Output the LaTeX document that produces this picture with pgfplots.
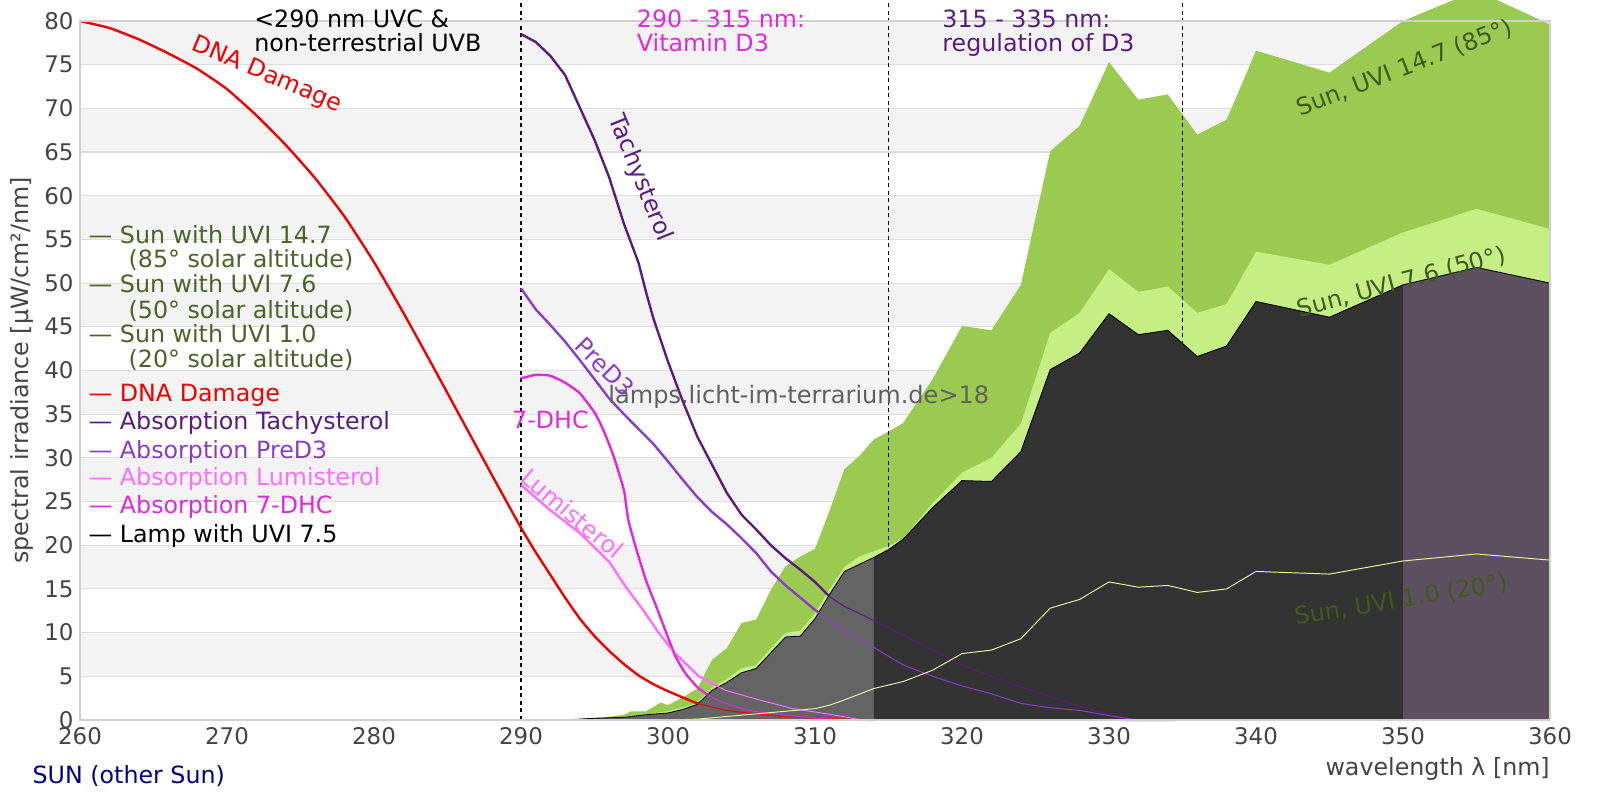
\documentclass[border=0pt]{standalone}
\usepackage{fontspec}
\setmainfont{DejaVu Sans}
\usepackage{pgfplots}
\usepackage{pgfplotstable}
\pgfplotsset{compat=1.18}
\newcommand{\chartfont}{\fontsize{17.1pt}{20.5pt}\selectfont}
\newcommand{\tickfont}{\fontsize{16.5pt}{19.8pt}\selectfont}
\definecolor{dnac}{RGB}{240,0,0}
\definecolor{tachyc}{RGB}{90,26,130}
\definecolor{predc}{RGB}{138,60,200}
\definecolor{lumic}{RGB}{255,110,255}
\definecolor{dhcc}{RGB}{224,40,224}
\definecolor{sunleg}{RGB}{74,100,40}
\definecolor{sunlab}{RGB}{62,90,28}
\definecolor{sunA}{RGB}{154,203,80}
\definecolor{sunB}{RGB}{197,239,132}
\definecolor{lampA}{RGB}{100,100,100}
\definecolor{lampB}{RGB}{51,51,51}
\definecolor{lampC}{RGB}{93,80,96}
\definecolor{sunonec}{RGB}{225,245,165}
\definecolor{tickc}{RGB}{68,68,68}
\definecolor{bandc}{RGB}{243,243,243}
\definecolor{gridc}{RGB}{221,221,221}
\definecolor{framec}{RGB}{208,208,208}
\definecolor{navyc}{RGB}{0,0,139}
\definecolor{wmc}{RGB}{96,96,96}

\pgfplotstableread{
x y
260 80.0
262 79.2
264 77.9
266 76.3
268 74.5
270 72.2
272 69.2
274 65.8
276 62.0
278 57.6
280 52.4
282 46.6
284 40.5
286 34.3
288 28.1
290 22.0
291 19.2
292 16.6
293 14.0
294 11.6
295 9.6
296 7.9
297 6.4
298 5.1
299 4.1
300 3.3
302 1.9
304 1.1
306 0.7
308 0.4
310 0.2
312 0.1
314 0.0
}\dna

\pgfplotstableread{
x y
290 78.5
291 77.6
292 76.0
293 73.8
294 70.1
295 66.4
296 62.1
297 56.8
298 52.3
298.5 49.0
299 46.0
300 41.0
301 36.5
302 32.4
303 29.2
304 26.0
305 23.5
306 21.8
307 20.0
308 18.5
309 17.2
310 15.8
311 14.1
312 13.0
314 11.4
316 9.7
318 8.0
320 6.3
322 5.0
324 3.8
326 2.7
328 1.6
330 0.6
331 0.0
334.5 0.0
}\tachy

\pgfplotstableread{
x y
290 49.4
291 47.0
292 45.2
293 43.3
294 41.2
295 39.0
296 36.8
297 35.0
298 33.3
299 31.6
300 29.6
301 27.5
302 25.5
303 23.8
304 22.4
305 20.8
306 19.1
307 17.0
308 15.4
309 14.0
310 12.6
312 10.2
314 8.3
316 6.3
318 5.0
320 3.9
322 3.0
324 1.9
326 1.4
328 1.1
330 0.5
332 0.0
}\pred

\pgfplotstableread{
x y
290 39.1
291 39.5
292 39.4
293 38.6
294 37.4
295 35.2
295.6 33.2
296.3 30.2
297 26.3
297.3 22.9
297.8 19.8
298.5 16.0
299.2 13.0
299.9 9.9
300.5 7.3
301.2 5.3
302.1 3.6
303.3 2.3
305.5 1.1
307.8 0.6
310.1 0.2
312 0.0
}\dhc

\pgfplotstableread{
x y
290 26.9
292 24.0
294 21.4
296 18.1
297.1 15.3
298.3 12.6
299.4 9.9
300.5 7.6
302.1 5.0
303.9 3.4
306.2 2.3
308.5 1.3
311.2 0.6
313.2 0.0
}\lumi

\pgfplotstableread{
x y
293 0
295 0.15
297 0.6
297.5 1.0
298.5 1.0
299.5 2.0
300 1.7
301 2.6
302 3.6
303 6.9
304 8.2
305 11.1
306 11.5
307 14.9
308 17.6
309 18.7
310 19.6
311 24.0
312 28.7
313 30.2
314 32.1
315 33.0
316 34.0
318 39.0
320 45.1
322 44.6
324 49.8
326 65.1
328 68.0
330 75.3
332 71.0
334 71.6
336 67.0
338 68.7
340 76.6
345 74.1
350 80.0
355 83.5
360 79.6
}\sunhigh

\pgfplotstableread{
x y
294 0
296 0.15
298 0.5
300 1.0
301 1.4
302 2.0
303 3.7
304 4.7
305 5.9
306 6.3
307 8.2
308 10.0
309 10.2
310 12.2
311 15.0
312 17.5
313 18.7
314 19.3
315 19.9
316 20.8
318 24.8
320 28.3
322 30.0
324 33.9
326 44.3
328 46.6
330 51.6
332 49.0
334 49.6
336 46.6
338 47.6
340 53.6
345 52.1
350 55.8
355 58.5
360 56.2
}\sunmid

\pgfplotstableread{
x y
300 0
302 0.1
304 0.4
306 0.7
308 1.0
310 1.3
311 1.7
312 2.3
314 3.6
316 4.4
318 5.7
320 7.6
322 8.0
324 9.3
326 12.8
328 13.8
330 15.8
332 15.2
334 15.4
336 14.6
338 15.0
340 17.0
345 16.7
350 18.2
355 19.0
360 18.3
}\sunlow

\pgfplotstableread{
x y
293 0
295 0.2
297 0.3
298.5 0.6
300 0.8
301 1.2
302 1.8
303 3.4
304 4.3
305 5.4
306 5.9
307 7.7
308 9.5
309 9.6
310 11.6
311 14.4
312 17.0
313 17.8
314 18.6
}\lampa

\pgfplotstableread{
x y
314 18.6
315 19.5
316 20.7
318 24.3
320 27.4
322 27.3
324 30.7
326 40.1
328 42.0
330 46.5
332 44.1
334 44.6
336 41.6
338 42.8
340 47.9
345 46.1
350 49.8
}\lampb

\pgfplotstableread{
x y
350 49.8
355 51.8
360 50.0
}\lampc

\begin{document}
\begin{tikzpicture}[font=\chartfont]
\begin{axis}[
  name=main,
  scale only axis,
  width=1058.4pt, height=503.28pt,
  xmin=260, xmax=360, ymin=0, ymax=80,
  clip=false,
  axis line style={draw=none},
  xtick={260,270,...,360},
  ytick={0,5,...,80},
  major tick length=0pt,
  tick label style={font=\tickfont, text=tickc},
  /pgf/number format/assume math mode=true,
  xticklabel style={yshift=-1.8pt},
  yticklabel style={xshift=-1.1pt},
  every axis plot/.append style={no markers, line join=round},
  thick line/.style={line width=1.7pt},
  thin line/.style={line width=0.7pt},
]
% alternating bands
\fill[bandc] (axis cs:260,5) rectangle (axis cs:360,10);
\fill[bandc] (axis cs:260,15) rectangle (axis cs:360,20);
\fill[bandc] (axis cs:260,25) rectangle (axis cs:360,30);
\fill[bandc] (axis cs:260,35) rectangle (axis cs:360,40);
\fill[bandc] (axis cs:260,45) rectangle (axis cs:360,50);
\fill[bandc] (axis cs:260,55) rectangle (axis cs:360,60);
\fill[bandc] (axis cs:260,65) rectangle (axis cs:360,70);
\fill[bandc] (axis cs:260,75) rectangle (axis cs:360,80);
\pgfplotsinvokeforeach{5,10,...,75}{
  \draw[gridc, line width=0.8pt] (axis cs:260,#1) -- (axis cs:360,#1);
}
% sun areas
\addplot[draw=none, fill=sunA] table {\sunhigh} \closedcycle;
\addplot[draw=none, fill=sunB] table {\sunmid} \closedcycle;
% dashed range lines
\draw[black, line width=0.8pt, dash pattern=on 3.2pt off 2.2pt] (axis cs:290,0) -- (axis cs:290,84);
\draw[black, line width=0.8pt, dash pattern=on 3.2pt off 2.2pt] (axis cs:315,0) -- (axis cs:315,84);
\draw[black, line width=0.8pt, dash pattern=on 3.2pt off 2.2pt] (axis cs:335,0) -- (axis cs:335,84);
% thick curves
\addplot[dnac, thick line, smooth, tension=0.3] table {\dna};
\addplot[tachyc, thick line] table {\tachy};
\addplot[predc, thick line] table {\pred};
\addplot[lumic, thick line] table {\lumi};
\addplot[dhcc, thick line, smooth, tension=0.3] table {\dhc};
% lamp
\addplot[draw=none, fill=lampA] table {\lampa} \closedcycle;
\addplot[draw=none, fill=lampB] table {\lampb} \closedcycle;
\addplot[draw=none, fill=lampC] table {\lampc} \closedcycle;
\addplot[black, line width=0.6pt] table {\lampa};
\addplot[black, line width=0.6pt] table {\lampb};
\addplot[black, line width=0.6pt] table {\lampc};
% thin curves on top
\addplot[dnac, thin line, smooth, tension=0.3] table {\dna};
\addplot[tachyc, thin line] table {\tachy};
\addplot[predc, thin line] table {\pred};
\addplot[lumic, thin line] table {\lumi};
\addplot[dhcc, thin line, smooth, tension=0.3] table {\dhc};
\addplot[sunonec, line width=0.7pt] table {\sunlow};
% frame
\draw[framec, line width=0.8pt] (rel axis cs:0,0) rectangle (rel axis cs:1,1);
% top annotations
\node[anchor=base west, inner sep=0pt] at (axis cs:271.84,79.3) {<290 nm UVC \&};
\node[anchor=base west, inner sep=0pt] at (axis cs:271.84,76.5) {non-terrestrial UVB};
\node[anchor=base west, inner sep=0pt, text=dhcc] at (axis cs:297.87,79.3) {290 - 315 nm:};
\node[anchor=base west, inner sep=0pt, text=dhcc] at (axis cs:297.87,76.5) {Vitamin D3};
\node[anchor=base west, inner sep=0pt, text=tachyc] at (axis cs:318.65,79.3) {315 - 335 nm:};
\node[anchor=base west, inner sep=0pt, text=tachyc] at (axis cs:318.65,76.5) {regulation of D3};
% curve labels
\node[rotate=-23, text=dnac, inner sep=0pt] at (axis cs:272.7,73.8) {DNA Damage};
\node[rotate=-68, text=tachyc, inner sep=0pt] at (axis cs:298.1,62.0) {Tachysterol};
\node[rotate=-45, text=predc, inner sep=0pt] at (axis cs:295.7,40.4) {PreD3};
\node[text=dhcc, inner sep=0pt] at (axis cs:292.0,34.4) {7-DHC};
\node[rotate=-40, text=lumic, inner sep=0pt] at (axis cs:293.5,23.65) {Lumisterol};
\node[text=wmc, inner sep=0pt, font=\fontsize{17.3pt}{20pt}\selectfont] at (axis cs:308.9,37.0) {lamps.licht-im-terrarium.de>18};
\node[rotate=21, text=sunlab, inner sep=0pt] at (axis cs:350.1,74.6) {Sun, UVI 14.7 (85°)};
\node[rotate=15, text=sunlab, inner sep=0pt] at (axis cs:349.9,50.1) {Sun, UVI 7.6 (50°)};
\node[rotate=9.3, text=sunlab, inner sep=0pt] at (axis cs:349.9,13.7) {Sun, UVI 1.0 (20°)};
% legend text
\node[anchor=base west, inner sep=0pt, text=sunleg] at (axis cs:260.57,54.5) {— Sun with UVI 14.7};
\node[anchor=base west, inner sep=0pt, text=sunleg] at (axis cs:263.29,51.75) {(85° solar altitude)};
\node[anchor=base west, inner sep=0pt, text=sunleg] at (axis cs:260.57,48.9) {— Sun with UVI 7.6};
\node[anchor=base west, inner sep=0pt, text=sunleg] at (axis cs:263.29,46.0) {(50° solar altitude)};
\node[anchor=base west, inner sep=0pt, text=sunleg] at (axis cs:260.57,43.2) {— Sun with UVI 1.0};
\node[anchor=base west, inner sep=0pt, text=sunleg] at (axis cs:263.29,40.3) {(20° solar altitude)};
\node[anchor=base west, inner sep=0pt, text=dnac] at (axis cs:260.57,36.4) {— DNA Damage};
\node[anchor=base west, inner sep=0pt, text=tachyc] at (axis cs:260.57,33.2) {— Absorption Tachysterol};
\node[anchor=base west, inner sep=0pt, text=predc] at (axis cs:260.57,29.9) {— Absorption PreD3};
\node[anchor=base west, inner sep=0pt, text=lumic] at (axis cs:260.57,26.8) {— Absorption Lumisterol};
\node[anchor=base west, inner sep=0pt, text=dhcc] at (axis cs:260.57,23.6) {— Absorption 7-DHC};
\node[anchor=base west, inner sep=0pt, text=black] at (axis cs:260.57,20.3) {— Lamp with UVI 7.5};
% axis titles
\node[rotate=90, text=tickc, inner sep=0pt] at ([xshift=-41.8pt]rel axis cs:0,0.5) {spectral irradiance [µW/cm²/nm]};
\node[anchor=base east, inner sep=0pt, text=tickc] at ([yshift=-40.3pt]rel axis cs:1,0) {wavelength λ [nm]};
\node[anchor=base west, inner sep=0pt, text=navyc] at ([xshift=-34.3pt, yshift=-45.4pt]rel axis cs:0,0) {SUN (other Sun)};
\end{axis}
\pgfresetboundingbox
\path[use as bounding box] ([xshift=-57.6pt,yshift=-57.6pt]main.south west) rectangle ([xshift=36pt,yshift=15.12pt]main.north east);
\end{tikzpicture}
\end{document}
